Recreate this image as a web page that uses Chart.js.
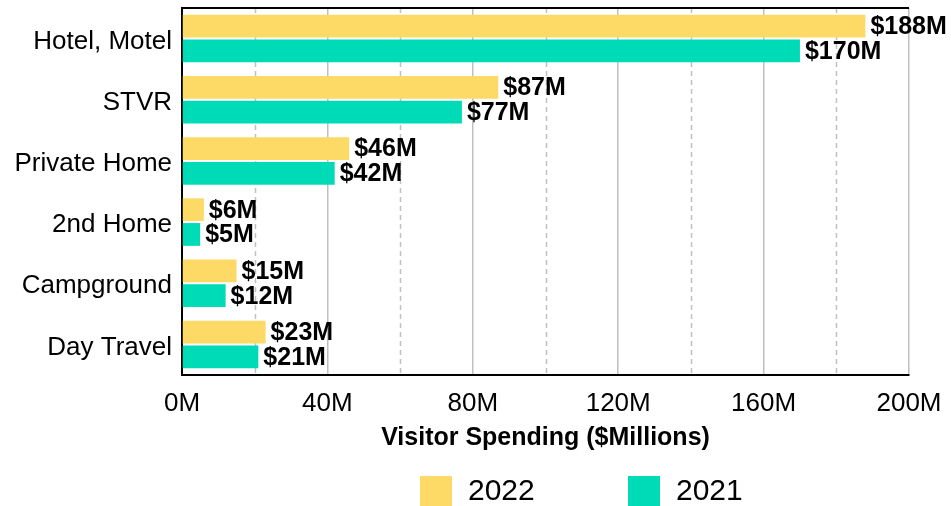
<!DOCTYPE html>
<html>
<head>
<meta charset="utf-8">
<script src="https://cdn.jsdelivr.net/npm/chart.js@4/dist/chart.umd.min.js"></script>
<style>
  html, body { margin: 0; padding: 0; background: #fff; }
  #wrap { width: 951px; height: 506px; position: relative; }
</style>
</head>
<body>
<div id="wrap"><canvas id="c" width="951" height="506"></canvas></div>
<script>
const categories = ['Hotel, Motel', 'STVR', 'Private Home', '2nd Home', 'Campground', 'Day Travel'];
const series2022 = [188, 87, 46, 6, 15, 23];
const series2021 = [170, 77, 42, 5, 12, 21];
const seriesNames = ['2022', '2021'];
const xTickValues = [0, 20, 40, 60, 80, 100, 120, 140, 160, 180, 200];
const axisTitle = 'Visitor Spending ($Millions)';

const YELLOW = '#FDD966';
const TEAL = '#00DBB7';
const FONT = "'Liberation Sans', Arial, sans-serif";

const decorPlugin = {
  id: 'decor',
  beforeDatasetsDraw(chart) {
    const ctx = chart.ctx;
    const xs = chart.scales.x;
    const area = chart.chartArea;
    ctx.save();
    ctx.strokeStyle = '#c0c0c0';
    ctx.lineWidth = 1.5;
    ctx.setLineDash([5, 4]);
    xTickValues.forEach(v => {
      if (v % 40 !== 0) {
        const px = Math.round(xs.getPixelForValue(v)) + 0.5;
        ctx.beginPath();
        ctx.moveTo(px, area.top);
        ctx.lineTo(px, area.bottom);
        ctx.stroke();
      }
    });
    ctx.restore();
  },
  afterDatasetsDraw(chart) {
    const ctx = chart.ctx;
    const area = chart.chartArea;
    ctx.save();
    // top border
    ctx.strokeStyle = '#000';
    ctx.lineWidth = 2;
    ctx.beginPath();
    ctx.moveTo(area.left, area.top);
    ctx.lineTo(area.right, area.top);
    ctx.stroke();
    // value labels
    ctx.fillStyle = '#000';
    ctx.font = "bold 25px " + FONT;
    ctx.textBaseline = 'middle';
    ctx.textAlign = 'left';
    chart.data.datasets.forEach((ds, di) => {
      const meta = chart.getDatasetMeta(di);
      meta.data.forEach((el, i) => {
        ctx.fillText('$' + ds.data[i] + 'M', el.x + 5, el.y + 1);
      });
    });
    // legend
    const items = [{x: 420}, {x: 628}];
    chart.data.datasets.forEach((ds, di) => {
      const it = items[di];
      ctx.fillStyle = ds.backgroundColor;
      ctx.fillRect(it.x, 476, 32, 30);
      ctx.fillStyle = '#000';
      ctx.font = "30px " + FONT;
      ctx.textBaseline = 'middle';
      ctx.fillText(ds.label, it.x + 48, 492);
    });
    ctx.restore();
  }
};

new Chart(document.getElementById('c'), {
  type: 'bar',
  data: {
    labels: categories,
    datasets: [
      { label: seriesNames[0], data: series2022, backgroundColor: YELLOW,
        categoryPercentage: 0.81, barPercentage: 0.92 },
      { label: seriesNames[1], data: series2021, backgroundColor: TEAL,
        categoryPercentage: 0.81, barPercentage: 0.92 }
    ]
  },
  options: {
    indexAxis: 'y',
    responsive: false,
    animation: false,
    layout: { padding: { left: 0, right: 42, top: 8, bottom: 46 } },
    plugins: {
      legend: { display: false },
      tooltip: { enabled: false }
    },
    scales: {
      x: {
        min: 0, max: 200,
        afterBuildTicks: (s) => { s.ticks = xTickValues.map(v => ({ value: v })); },
        afterFit: (s) => { s.height = 85; s.paddingLeft = 0; s.paddingRight = 0; },
        ticks: {
          autoSkip: false,
          maxRotation: 0,
          padding: 13,
          color: '#000',
          font: { family: FONT, size: 26 },
          callback: (v) => (v % 40 === 0 ? v + 'M' : '')
        },
        grid: {
          drawTicks: false,
          lineWidth: 1.5,
          color: (c) => (c.tick && c.tick.value % 40 === 0 ? '#c0c0c0' : 'rgba(0,0,0,0)')
        },
        border: { color: '#000', width: 2 },
        title: {
          display: true,
          text: axisTitle,
          color: '#000',
          font: { family: FONT, size: 25, weight: 'bold' },
          padding: { top: 4, bottom: 7 }
        }
      },
      y: {
        afterFit: (s) => { s.width = 182; s.paddingTop = 0; s.paddingBottom = 0; },
        ticks: {
          padding: 10,
          labelOffset: 3,
          color: '#000',
          font: { family: FONT, size: 26 }
        },
        grid: { display: false, drawTicks: false },
        border: { color: '#000', width: 2 }
      }
    }
  },
  plugins: [decorPlugin]
});
</script>
</body>
</html>
